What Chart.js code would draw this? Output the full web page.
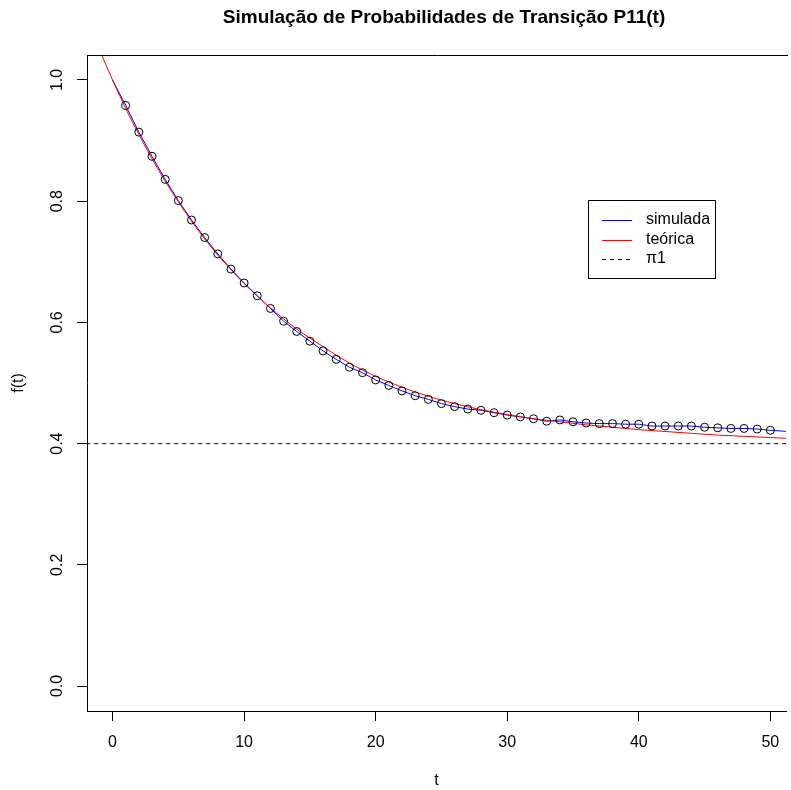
<!DOCTYPE html>
<html>
<head>
<meta charset="utf-8">
<script src="https://cdn.jsdelivr.net/npm/chart.js@4/dist/chart.umd.min.js"></script>
<style>
  html, body { margin: 0; padding: 0; background: #fff; overflow: hidden; }
  canvas { display: block; }
</style>
</head>
<body>
<canvas id="grafico" width="791" height="790"></canvas>
<script>
// ================= DADOS =================
const titulo = "Simulação de Probabilidades de Transição P11(t)";
const rotulos = ["simulada", "teórica", "π1"];

const xTicks = [0, 10, 20, 30, 40, 50];
const yTicks = [0, 0.2, 0.4, 0.6, 0.8, 1.0];

// simulada (linha azul e círculos), t = 0..50 e ponta direita
const tSim = [0, 1, 2, 3, 4, 5, 6, 7, 8, 9, 10, 11, 12, 13, 14, 15, 16, 17, 18, 19, 20,
    21, 22, 23, 24, 25, 26, 27, 28, 29, 30, 31, 32, 33, 34, 35, 36, 37, 38, 39, 40,
    41, 42, 43, 44, 45, 46, 47, 48, 49, 50, 52];
const simulada = [1.000, 0.958, 0.914, 0.874, 0.836, 0.801, 0.769, 0.740, 0.713, 0.688, 0.665,
    0.644, 0.623, 0.602, 0.585, 0.569, 0.553, 0.539, 0.526, 0.517, 0.505,
    0.496, 0.487, 0.479, 0.473, 0.466, 0.461, 0.457, 0.455, 0.451, 0.447,
    0.444, 0.441, 0.437, 0.439, 0.436, 0.434, 0.433, 0.433, 0.432, 0.432,
    0.429, 0.429, 0.429, 0.429, 0.427, 0.426, 0.425, 0.425, 0.424, 0.422, 0.419];

// teórica (curva vermelha)
const tTeo = [-2, -1, 0, 1, 2, 3, 4, 5, 6, 7, 8, 9, 10, 12, 14, 16, 18, 20, 22, 24, 26,
    28, 30, 32, 34, 36, 38, 40, 42, 44, 46, 48, 50, 52];
const teorica = [1.100, 1.050, 1.000, 0.953, 0.910, 0.870, 0.833, 0.799, 0.767, 0.738, 0.711,
    0.687, 0.664, 0.624, 0.589, 0.560, 0.533, 0.511, 0.493, 0.478, 0.466,
    0.456, 0.448, 0.441, 0.436, 0.431, 0.427, 0.423, 0.420, 0.417, 0.414, 0.412, 0.410, 0.408];

const pi1 = 0.4;
const tLimites = [-2, 52];
// ------------------------------------------

const fonte = "'Liberation Sans', Arial, sans-serif";

const linhaSim = tSim.map((t, i) => ({ x: t, y: simulada[i] }));
const circulos = linhaSim.filter(p => p.x >= 1 && p.x <= 50);
const linhaTeo = tTeo.map((t, i) => ({ x: t, y: teorica[i] }));
const linhaPi = tLimites.map(t => ({ x: t, y: pi1 }));

// tamanho fixo dos eixos, sem folga extra para os rótulos
function fixaEixo(s, tamanho) {
    if (s.isHorizontal()) s.height = tamanho; else s.width = tamanho;
    s.paddingLeft = 0; s.paddingRight = 0; s.paddingTop = 0; s.paddingBottom = 0;
}

// moldura, título e legenda no estilo do R
const extras = {
    id: 'extras',
    afterDraw(chart) {
        const ctx = chart.ctx;
        const a = chart.chartArea;
        ctx.save();
        ctx.strokeStyle = '#000';
        ctx.lineWidth = 1;
        ctx.beginPath();
        ctx.moveTo(a.left, a.top + 0.5);
        ctx.lineTo(a.right + 2, a.top + 0.5);
        ctx.stroke();

        // título
        ctx.fillStyle = '#000';
        ctx.font = "bold 19px " + fonte;
        ctx.textAlign = 'center';
        ctx.textBaseline = 'middle';
        ctx.fillText(titulo, 444, 18);

        // legenda
        const bx = 588.5, by = 200.5, bw = 127, bh = 78;
        ctx.fillStyle = '#fff';
        ctx.fillRect(bx, by, bw, bh);
        ctx.strokeRect(bx, by, bw, bh);
        const cores = ['#0000ff', '#ff0000', '#000'];
        const ys = [220, 239.5, 259];
        ctx.font = "16px " + fonte;
        ctx.textAlign = 'left';
        rotulos.forEach((r, i) => {
            ctx.beginPath();
            ctx.strokeStyle = cores[i];
            ctx.setLineDash(i === 2 ? [4, 4] : []);
            ctx.moveTo(602, Math.round(ys[i]) + 0.5);
            ctx.lineTo(632, Math.round(ys[i]) + 0.5);
            ctx.stroke();
            ctx.fillStyle = '#000';
            ctx.fillText(r, 646, ys[i]);
        });
        ctx.restore();
    }
};

new Chart(document.getElementById('grafico'), {
    type: 'line',
    data: {
        datasets: [
            {
                label: 'pontos', data: circulos, showLine: false, order: 0,
                pointRadius: 4, pointBorderWidth: 1, pointBorderColor: '#000',
                pointBackgroundColor: 'rgba(0,0,0,0)'
            },
            {
                label: rotulos[1], data: linhaTeo, order: 1, borderColor: '#ff0000',
                borderWidth: 1, pointRadius: 0, cubicInterpolationMode: 'monotone'
            },
            {
                label: rotulos[0], data: linhaSim, order: 2, borderColor: '#0000ff',
                borderWidth: 1, pointRadius: 0, tension: 0
            },
            {
                label: rotulos[2], data: linhaPi, order: 3, borderColor: '#000',
                borderWidth: 1, pointRadius: 0, borderDash: [4, 4]
            }
        ]
    },
    options: {
        responsive: false,
        animation: false,
        devicePixelRatio: 1,
        layout: { padding: { top: 55, right: 1, left: 0, bottom: 0 } },
        plugins: { legend: { display: false }, tooltip: { enabled: false }, title: { display: false } },
        scales: {
            x: {
                type: 'linear', min: -1.943, max: 51.19,
                afterBuildTicks: s => { s.ticks = xTicks.map(v => ({ value: v })); },
                afterFit: s => fixaEixo(s, 79),
                grid: { drawOnChartArea: false, tickLength: 10, tickColor: '#000', color: '#000' },
                border: { display: true, color: '#000', width: 1 },
                ticks: { font: { family: fonte, size: 16 }, color: '#000', padding: 12, maxRotation: 0 },
                title: { display: true, text: 't', font: { family: fonte, size: 16 }, color: '#000', padding: { top: 0, bottom: 0 } }
            },
            y: {
                type: 'linear', min: -0.04125, max: 1.04125,
                afterBuildTicks: s => { s.ticks = yTicks.map(v => ({ value: v })); },
                afterFit: s => fixaEixo(s, 87),
                grid: { drawOnChartArea: false, tickLength: 10, tickColor: '#000', color: '#000' },
                border: { display: true, color: '#000', width: 1 },
                ticks: {
                    font: { family: fonte, size: 16 }, color: '#000', padding: 8,
                    minRotation: 90, maxRotation: 90, crossAlign: 'center',
                    callback: v => v.toFixed(1)
                },
                title: { display: true, text: 'f(t)', font: { family: fonte, size: 16 }, color: '#000', padding: { top: 9, bottom: 0 } }
            }
        }
    },
    plugins: [extras]
});
</script>
</body>
</html>
